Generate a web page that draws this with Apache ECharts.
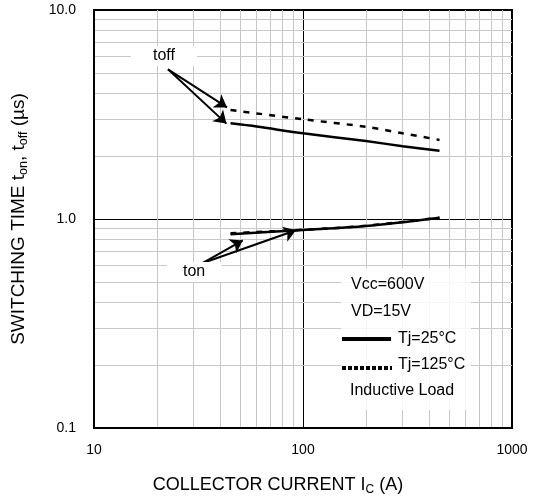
<!DOCTYPE html>
<html>
<head>
<meta charset="utf-8">
<script src="https://cdn.jsdelivr.net/npm/echarts@6/dist/echarts.min.js"></script>
<style>
  html, body { margin: 0; padding: 0; background: #fff; }
  #chart { width: 533px; height: 499px; }
</style>
</head>
<body>
<div id="chart"></div>
<script>
// Collector current (A) sample points for each curve
const currentToff = [45, 60, 100, 200, 300, 450];
const toff25 = [2.87, 2.77, 2.57, 2.36, 2.23, 2.12];
const toff125 = [3.32, 3.2, 3.0, 2.76, 2.57, 2.39];

const currentTon = [45, 100, 200, 450];
const ton25 = [0.845, 0.886, 0.926, 1.015];
const ton125 = [0.855, 0.888, 0.928, 1.015];

// Fine grid positions inside each decade
const minorX = [20, 30, 40, 50, 60, 70, 80, 90, 200, 300, 400, 500, 600, 700, 800, 900];
const minorY = [0.2, 0.3, 0.4, 0.5, 0.6, 0.7, 0.8, 0.9, 2, 3, 4, 5, 6, 7, 8, 9];

// Pointer arrows from the curve names (data coordinates: [current, time])
const toffArrows = [
  [[22.6, 5.2], [43.3, 3.42]],
  [[22.6, 5.2], [43.0, 2.86]]
];
const tonArrows = [
  [[33.2, 0.616], [51.5, 0.79]],
  [[33.2, 0.616], [92.5, 0.884]]
];

const FONT = '"Liberation Sans", Arial, sans-serif';

const zip = (xs, ys) => xs.map((x, i) => [x, ys[i]]);

const chart = echarts.init(document.getElementById('chart'), null, { renderer: 'canvas' });

const gridLineStyle = { color: '#c8c8c8', width: 1, type: 'solid' };

chart.setOption({
  animation: false,
  backgroundColor: '#ffffff',
  grid: {
    left: 94, right: 21, top: 10, bottom: 71,
    outerBoundsMode: 'none', containLabel: false,
    show: true, borderColor: '#000', borderWidth: 2, backgroundColor: 'transparent'
  },
  xAxis: {
    type: 'log', logBase: 10, min: 10, max: 1000,
    axisLine: { show: true, lineStyle: { color: '#000', width: 2 } },
    axisTick: { show: false },
    axisLabel: { color: '#000', fontFamily: FONT, fontSize: 14, margin: 15, formatter: v => String(v) },
    splitLine: { show: true, lineStyle: { color: '#000', width: 1 } },
    name: 'COLLECTOR CURRENT I{sub|C} (A)',
    nameLocation: 'middle',
    nameGap: 46,
    nameTextStyle: {
      color: '#000', fontFamily: FONT, fontSize: 18, lineHeight: 22,
      padding: [0, 50, 0, 0],
      rich: { sub: { fontFamily: FONT, fontSize: 12, lineHeight: 22, verticalAlign: 'bottom', color: '#000' } }
    }
  },
  yAxis: {
    type: 'log', logBase: 10, min: 0.1, max: 10,
    axisLine: { show: true, lineStyle: { color: '#000', width: 2 } },
    axisTick: { show: false },
    axisLabel: {
      color: '#000', fontFamily: FONT, fontSize: 14, margin: 18,
      formatter: v => Number(v).toFixed(1)
    },
    splitLine: { show: true, lineStyle: { color: '#000', width: 1 } },
    name: 'SWITCHING TIME t{sub|on}, t{sub|off} (µs)',
    nameLocation: 'middle',
    nameRotate: 90,
    nameGap: 64,
    nameTextStyle: {
      color: '#000', fontFamily: FONT, fontSize: 19, lineHeight: 23,
      rich: { sub: { fontFamily: FONT, fontSize: 12.5, lineHeight: 23, verticalAlign: 'bottom', color: '#000' } }
    }
  },
  series: [
    {
      // fine decade grid
      type: 'line', data: [], silent: true,
      markLine: {
        silent: true, symbol: 'none', label: { show: false },
        lineStyle: gridLineStyle, z: 0,
        data: minorX.map(v => ({ xAxis: v })).concat(minorY.map(v => ({ yAxis: v })))
      },
      z: 0
    },
    {
      name: 'toff 25', type: 'line', data: zip(currentToff, toff25),
      showSymbol: false, smooth: 0.3,
      lineStyle: { color: '#000', width: 2.5 }, z: 5
    },
    {
      name: 'toff 125', type: 'line', data: zip(currentToff, toff125),
      showSymbol: false, smooth: 0.3,
      lineStyle: { color: '#000', width: 2.5, type: [6, 7] }, z: 5
    },
    {
      name: 'ton 125', type: 'line', data: zip(currentTon, ton125),
      showSymbol: false, smooth: 0.3,
      lineStyle: { color: '#000', width: 2.5, type: [6, 7] }, z: 5
    },
    {
      name: 'ton 25', type: 'line', data: zip(currentTon, ton25),
      showSymbol: false, smooth: 0.3,
      lineStyle: { color: '#000', width: 2.5 }, z: 5
    },
    {
      type: 'lines', coordinateSystem: 'cartesian2d', silent: true,
      symbol: ['none', 'arrow'], symbolSize: 12,
      lineStyle: { color: '#000', width: 2, opacity: 1 },
      data: toffArrows.concat(tonArrows).map(c => ({ coords: c })),
      z: 6
    }
  ],
  graphic: [
    // curve names
    {
      type: 'text', left: 131, top: 46, z: 10,
      style: { text: 'toff', font: '16px ' + FONT, fill: '#000', backgroundColor: '#fff', padding: [2, 22, 2, 22] }
    },
    {
      type: 'text', left: 167, top: 262, z: 10,
      style: { text: 'ton', font: '16px ' + FONT, fill: '#000', backgroundColor: '#fff', padding: [2, 16, 2, 16] }
    },
    // conditions box
    {
      type: 'rect', left: 341, top: 268, z: 9,
      shape: { width: 130, height: 142 },
      style: { fill: 'rgba(255,255,255,0.85)' }
    },
    { type: 'text', left: 351, top: 277, z: 10, style: { text: 'Vcc=600V', font: '16px ' + FONT, fill: '#000' } },
    { type: 'text', left: 351, top: 304, z: 10, style: { text: 'VD=15V', font: '16px ' + FONT, fill: '#000' } },
    {
      type: 'line', z: 10,
      shape: { x1: 342, y1: 339, x2: 391, y2: 339 },
      style: { stroke: '#000', lineWidth: 4 }
    },
    { type: 'text', left: 398, top: 331, z: 10, style: { text: 'Tj=25°C', font: '16px ' + FONT, fill: '#000' } },
    {
      type: 'line', z: 10,
      shape: { x1: 342, y1: 368, x2: 392, y2: 368 },
      style: { stroke: '#000', lineWidth: 4, lineDash: [4, 2] }
    },
    { type: 'text', left: 398, top: 357, z: 10, style: { text: 'Tj=125°C', font: '16px ' + FONT, fill: '#000' } },
    { type: 'text', left: 350, top: 383, z: 10, style: { text: 'Inductive Load', font: '16px ' + FONT, fill: '#000' } }
  ]
});
</script>
</body>
</html>
